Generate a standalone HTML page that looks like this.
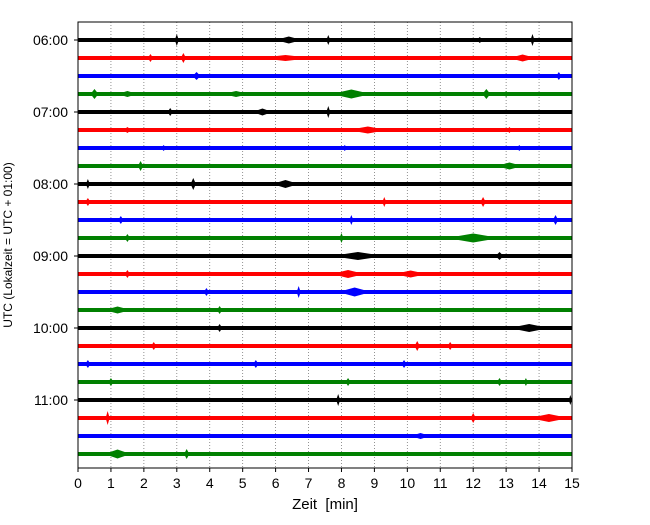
<!DOCTYPE html>
<html><head><meta charset="utf-8"><style>
body{margin:0;background:#fff}
svg text{font-family:"Liberation Sans","DejaVu Sans",sans-serif;white-space:pre}
</style></head><body>
<svg id="c" width="650" height="520" xmlns="http://www.w3.org/2000/svg"></svg>
<script>
const xTicks=[0,1,2,3,4,5,6,7,8,9,10,11,12,13,14,15];
const hourLabels=["06:00","07:00","08:00","09:00","10:00","11:00"];
const lineCount=24;
const lineColors=["#000000","#ff0000","#0000ff","#008000"];
// events: [line index, minute, amplitude, half-width in minutes]
const eventLine=[0,0,0,0,0,1,1,1,1,2,2,3,3,3,3,3,3,4,4,4,5,5,5,6,6,6,7,7,8,8,8,9,9,9,10,10,10,11,11,11,12,12,13,13,13,14,14,14,15,15,16,16,17,17,17,18,18,18,19,19,19,19,20,20,21,21,21,22,23,23];
const eventTime=[3.0,6.4,7.6,13.8,12.2,2.2,3.2,6.3,13.5,3.6,14.6,0.5,1.5,4.8,8.3,12.4,13.0,2.8,5.6,7.6,1.5,8.8,13.1,2.6,8.1,13.4,1.9,13.1,0.3,3.5,6.3,0.3,9.3,12.3,1.3,8.3,14.5,1.5,8.0,12.0,8.5,12.8,1.5,8.2,10.1,3.9,6.7,8.4,1.2,4.3,4.3,13.7,2.3,10.3,11.3,0.3,5.4,9.9,1.0,8.2,12.8,13.6,7.9,14.95,0.9,12.0,14.3,10.4,1.2,3.3];
const eventAmp=[6,3.5,5,6,3,4,5,3,3.5,4,4,5,3,3,4.5,5,3,4,3.5,6,3,3.5,3,3,3,3,5,3.5,5,6,4,4,5,5,4,5,5,4,5,4.5,4,4,4,4,3.5,4,6,4.5,3.5,4,4,4,4,5,4,4,4,4,4,4,4,4,6,5,7,5,4,3,4.5,5];
const eventWidth=[0.06,0.4,0.06,0.06,0.1,0.08,0.08,0.8,0.4,0.12,0.08,0.12,0.3,0.4,0.6,0.12,0.08,0.08,0.3,0.06,0.12,0.6,0.08,0.08,0.08,0.08,0.08,0.4,0.06,0.08,0.4,0.08,0.06,0.08,0.08,0.06,0.08,0.08,0.06,0.8,0.8,0.12,0.08,0.5,0.5,0.08,0.06,0.5,0.4,0.08,0.08,0.6,0.08,0.08,0.08,0.08,0.08,0.08,0.08,0.08,0.08,0.06,0.06,0.05,0.06,0.08,0.6,0.3,0.4,0.08];
const X0=78,X1=572,Y0=22,Y1=468,L0=40,DL=18;
const xs=t=>X0+(t-xTicks[0])/(xTicks[xTicks.length-1]-xTicks[0])*(X1-X0);
const ys=i=>L0+i*DL;
const svg=document.getElementById('c');const NS="http://www.w3.org/2000/svg";
function mk(tag,attrs,parent){const e=document.createElementNS(NS,tag);for(const k in attrs)e.setAttribute(k,attrs[k]);(parent||svg).appendChild(e);return e;}
xTicks.forEach(t=>{if(t>0&&t<15){const g=mk('line',{x1:xs(t),x2:xs(t),y1:Y0,y2:Y1,stroke:'#777','stroke-width':0.8,'stroke-dasharray':'1,2'});

}});
for(let i=0;i<lineCount;i++){const col=lineColors[i%4];
const r=mk('rect',{x:X0,y:ys(i)-2,width:X1-X0,height:4,fill:col});

}
for(let k=0;k<eventLine.length;k++){const i=eventLine[k],t=eventTime[k],a=eventAmp[k],w=eventWidth[k];const y=ys(i);const col=lineColors[i%4];
const pts=[[xs(Math.max(0,t-w)),y],[xs(t),y-a],[xs(Math.min(15,t+w)),y],[xs(t),y+a]].map(p=>p.join(',')).join(' ');
const p=mk('polygon',{points:pts,fill:col});

}
const b=mk('rect',{x:X0,y:Y0,width:X1-X0,height:Y1-Y0,fill:'none',stroke:'#000','stroke-width':1});


xTicks.forEach(t=>{mk('line',{x1:xs(t),x2:xs(t),y1:Y1,y2:Y1+4,stroke:'#000'});
const tx=mk('text',{x:xs(t),y:Y1+20,'text-anchor':'middle','font-size':14});tx.textContent=t;

});
hourLabels.forEach((h,j)=>{const y=ys(j*4);mk('line',{x1:X0-4,x2:X0,y1:y,y2:y,stroke:'#000'});
const tx=mk('text',{x:X0-10,y:y+5,'text-anchor':'end','font-size':14});tx.textContent=h;

});
const xl=mk('text',{x:325,y:509,'text-anchor':'middle','font-size':15});xl.textContent="Zeit  [min]";


const yl=mk('text',{x:0,y:0,'text-anchor':'middle','font-size':12,transform:'translate(12,245) rotate(-90)'});yl.textContent="UTC (Lokalzeit = UTC + 01:00)";


</script></body></html>
